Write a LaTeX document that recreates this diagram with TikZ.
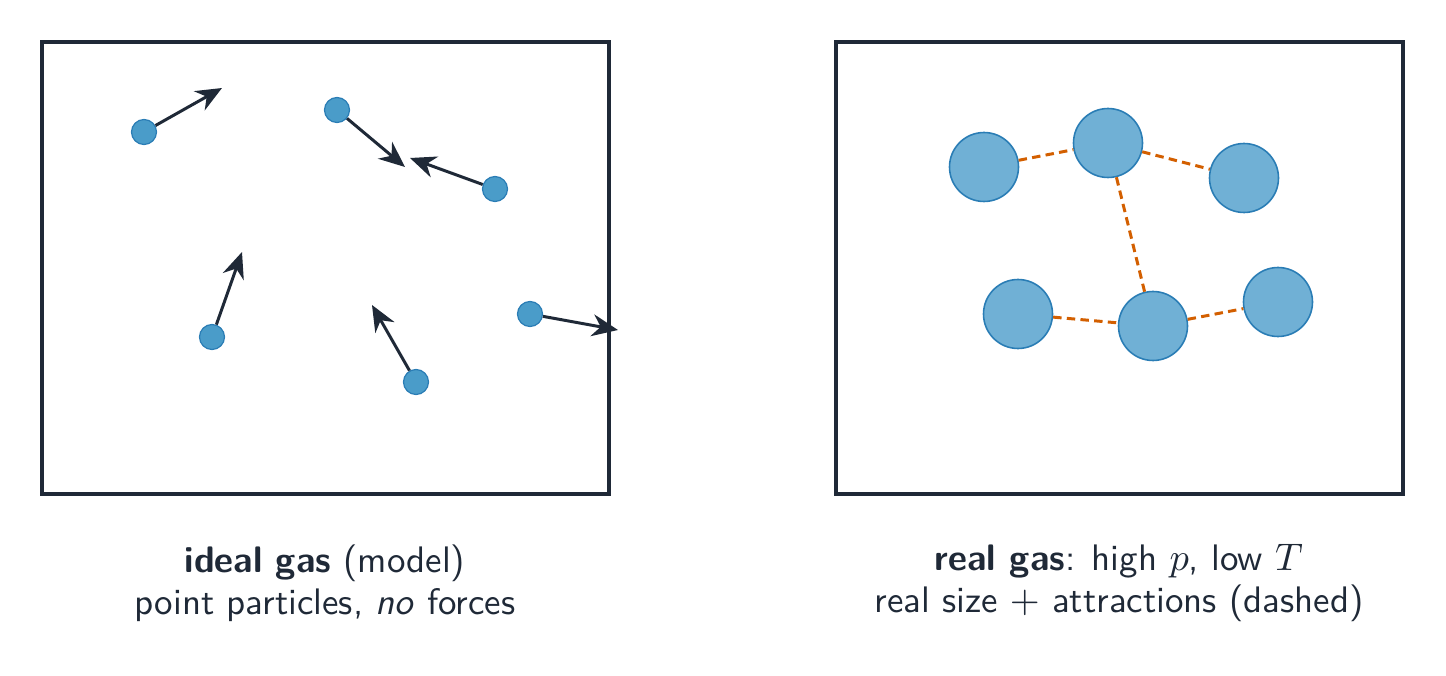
\documentclass[tikz,border=0pt]{standalone}
\usepackage{amsmath,amssymb}
\usepackage{tikz}
\usetikzlibrary{arrows.meta, positioning}
\definecolor{ink}{HTML}{1F2937}
\definecolor{pblue}{HTML}{4A9CC9}
\definecolor{pedge}{HTML}{2A7DB5}
\definecolor{plight}{HTML}{70B0D5}
\definecolor{attr}{HTML}{D35F00}
\begin{document}
\begin{tikzpicture}[font=\sffamily\fontsize{10.5}{11.9}\selectfont, >={Stealth[length=2.6mm,width=2.2mm]}, text=ink,
    box/.style={draw=ink, line width=1.15pt},
    pt/.style={circle, draw=pedge, line width=0.35pt, fill=pblue, minimum size=0.25cm, inner sep=0pt},
    big/.style={circle, draw=pedge, line width=0.45pt, fill=plight, minimum size=0.69cm, inner sep=0pt},
    vel/.style={->, draw=ink, line width=0.85pt},
    att/.style={draw=attr, dash pattern=on 2.4pt off 1.5pt, line width=0.85pt},
    caption/.style={align=center}]
    \useasboundingbox (0,0) rectangle (14.46,-6.76);
    % ideal gas
    \draw[box] (0.42,-0.42) rectangle (6.09,-4.94);
    \coordinate (v1) at (2.22,-0.88);
    \coordinate (v2) at (4.05,-1.67);
    \coordinate (v3) at (4.10,-1.58);
    \coordinate (v4) at (2.42,-2.52);
    \coordinate (v5) at (3.72,-3.05);
    \coordinate (v6) at (6.18,-3.30);
    \node[pt] (a1) at (1.44,-1.32) {};
    \node[pt] (a2) at (3.37,-1.10) {};
    \node[pt] (a3) at (4.95,-1.89) {};
    \node[pt] (a4) at (2.12,-3.37) {};
    \node[pt] (a5) at (4.16,-3.82) {};
    \node[pt] (a6) at (5.30,-3.14) {};
    \draw[vel] (a1) -- (v1);
    \draw[vel] (a2) -- (v2);
    \draw[vel] (a3) -- (v3);
    \draw[vel] (a4) -- (v4);
    \draw[vel] (a5) -- (v5);
    \draw[vel] (a6) -- (v6);
    \node[caption] (ideal) at (3.25,-5.83) {\textbf{ideal gas} (model)\\point particles, \textit{no} forces};
    % real gas
    \draw[box] (8.36,-0.42) rectangle (14.03,-4.94);
    \node[big] (b1) at (9.84,-1.67) {};
    \node[big] (b2) at (11.08,-1.43) {};
    \node[big] (b3) at (12.44,-1.78) {};
    \node[big] (b4) at (10.18,-3.14) {};
    \node[big] (b5) at (11.53,-3.26) {};
    \node[big] (b6) at (12.78,-3.02) {};
    \draw[att] (b1) -- (b2);
    \draw[att] (b2) -- (b3);
    \draw[att] (b2) -- (b5);
    \draw[att] (b4) -- (b5);
    \draw[att] (b5) -- (b6);
    \node[caption] (real) at (11.19,-5.83) {\textbf{real gas}: high $p$, low $T$\\real size $+$ attractions (dashed)};
\end{tikzpicture}
\end{document}
